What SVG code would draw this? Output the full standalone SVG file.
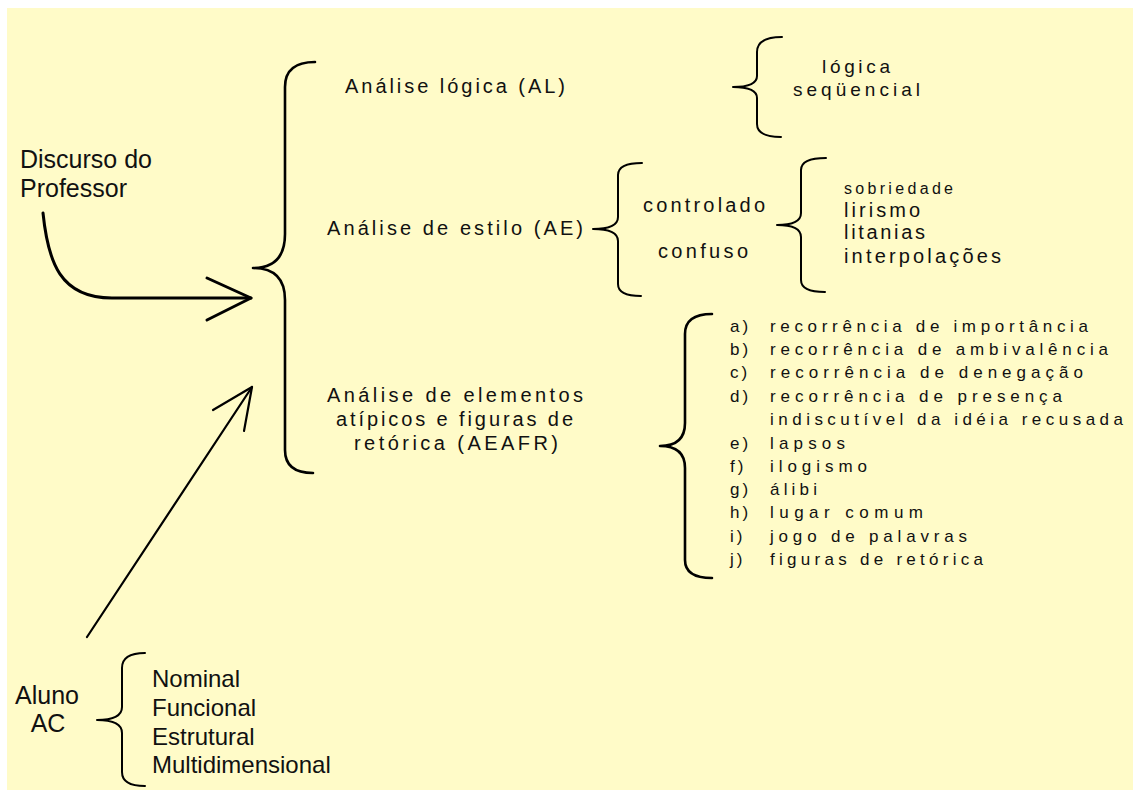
<svg xmlns="http://www.w3.org/2000/svg" width="1133" height="790" viewBox="0 0 1133 790">
<style>
.sans{font-family:"Liberation Sans",Arial,sans-serif;fill:#111;}
.big{font-size:25px;}
.mid{font-size:24px;}
.sp{font-size:20px;}
.sm{font-size:17px;}
.xs{font-size:16px;}
.brace{fill:none;stroke:#000;stroke-width:2;stroke-linejoin:round;stroke-linecap:round;}
.brace.thick{stroke-width:2.6;}
.arrow{fill:none;stroke:#000;stroke-linecap:round;stroke-linejoin:round;}
</style>
<rect x="0" y="0" width="1133" height="790" fill="#ffffff"/>
<rect x="7" y="8" width="1126" height="782" fill="#fffbc8"/>

<g id="connectors">
  <path class="arrow" stroke-width="3" d="M43,213 C48,262 60,298 112,298 L251,298"/>
  <path class="arrow" stroke-width="3" d="M207,278 L251,298 L207,320"/>
  <path class="arrow" stroke-width="2.2" d="M87,637 L252,387"/>
  <path class="arrow" stroke-width="2.2" d="M213,410 L252,387 L244,431"/>
</g>

<g id="discurso">
  <text class="sans big" x="20" y="168">Discurso do</text>
  <text class="sans big" x="20" y="197">Professor</text>
</g>

<g id="brace-main">
  <path class="brace thick" d="M315,62 Q285,62 285,87 V234 Q285,268 253,268 Q285,268 285,300 V450 Q285,473 313,473"/>
</g>

<g id="analise-logica">
  <text class="sans sp" x="345" y="93" textLength="220" lengthAdjust="spacing">Análise lógica (AL)</text>
</g>

<g id="analise-estilo">
  <text class="sans sp" x="327" y="235" textLength="256" lengthAdjust="spacing">Análise de estilo (AE)</text>
</g>

<g id="analise-aeafr">
  <text class="sans sp" x="327" y="402" textLength="256" lengthAdjust="spacing">Análise de elementos</text>
  <text class="sans sp" x="336" y="426" textLength="237" lengthAdjust="spacing">atípicos e figuras de</text>
  <text class="sans sp" x="354" y="450" textLength="204" lengthAdjust="spacing">retórica (AEAFR)</text>
</g>

<g id="logica-seq">
  <path class="brace" d="M782,37 Q757,37 757,52 V76 Q757,87 733,87 Q757,87 757,98 V124 Q757,137 781,137"/>
  <text class="sans sp" x="822" y="73" textLength="68" lengthAdjust="spacing" style="font-size:19px">lógica</text>
  <text class="sans sp" x="793" y="96" textLength="127" lengthAdjust="spacing" style="font-size:19px">seqüencial</text>
</g>

<g id="estilo-tipos">
  <path class="brace" d="M642,163 Q618,163 618,175 V217 Q618,229 593,229 Q618,229 618,241 V284 Q618,296 641,296"/>
  <text class="sans sp" x="643" y="212" textLength="122" lengthAdjust="spacing">controlado</text>
  <text class="sans sp" x="658" y="258" textLength="90" lengthAdjust="spacing">confuso</text>
</g>

<g id="estilo-caract">
  <path class="brace" d="M826,158 Q801,158 801,170 V213 Q801,225 777,225 Q801,225 801,237 V280 Q801,292 825,292"/>
  <text class="sans xs" x="844" y="194" textLength="109" lengthAdjust="spacing">sobriedade</text>
  <text class="sans sp" x="844" y="217" textLength="76" lengthAdjust="spacing">lirismo</text>
  <text class="sans sp" x="844" y="239" textLength="81" lengthAdjust="spacing">litanias</text>
  <text class="sans sp" x="844" y="263" textLength="157" lengthAdjust="spacing">interpolações</text>
</g>

<g id="aeafr-lista">
  <path class="brace thick" d="M712,314 Q685,314 685,334 V423 Q685,446 660,446 Q685,446 685,468 V560 Q685,578 712,578"/>
  <g class="sans sm">
    <text x="730" y="332" letter-spacing="3">a)</text>
    <text x="770" y="332" textLength="318" lengthAdjust="spacing">recorrência de importância</text>
    <text x="730" y="355" letter-spacing="3">b)</text>
    <text x="770" y="355" textLength="338" lengthAdjust="spacing">recorrência de ambivalência</text>
    <text x="730" y="378" letter-spacing="3">c)</text>
    <text x="770" y="378" textLength="313" lengthAdjust="spacing">recorrência de denegação</text>
    <text x="730" y="402" letter-spacing="3">d)</text>
    <text x="770" y="402" textLength="292" lengthAdjust="spacing">recorrência de presença</text>
    <text x="770" y="425" textLength="353" lengthAdjust="spacing">indiscutível da idéia recusada</text>
    <text x="730" y="449" letter-spacing="3">e)</text>
    <text x="770" y="449" textLength="75" lengthAdjust="spacing">lapsos</text>
    <text x="730" y="472" letter-spacing="3">f)</text>
    <text x="770" y="472" textLength="97" lengthAdjust="spacing">ilogismo</text>
    <text x="730" y="495" letter-spacing="3">g)</text>
    <text x="770" y="495" textLength="47" lengthAdjust="spacing">álibi</text>
    <text x="730" y="518" letter-spacing="3">h)</text>
    <text x="770" y="518" textLength="153" lengthAdjust="spacing">lugar comum</text>
    <text x="730" y="542" letter-spacing="3">i)</text>
    <text x="770" y="542" textLength="197" lengthAdjust="spacing">jogo de palavras</text>
    <text x="730" y="565" letter-spacing="3">j)</text>
    <text x="770" y="565" textLength="213" lengthAdjust="spacing">figuras de retórica</text>
  </g>
</g>

<g id="aluno">
  <text class="sans big" x="47" y="704" text-anchor="middle">Aluno</text>
  <text class="sans big" x="48" y="732" text-anchor="middle">AC</text>
</g>

<g id="aluno-tipos">
  <path class="brace" d="M145,653 Q122,653 122,668 V707 Q122,720 97,720 Q122,720 122,733 V772 Q122,786 145,786"/>
  <text class="sans mid" x="152" y="687">Nominal</text>
  <text class="sans mid" x="152" y="716">Funcional</text>
  <text class="sans mid" x="152" y="745">Estrutural</text>
  <text class="sans mid" x="152" y="773">Multidimensional</text>
</g>
</svg>
